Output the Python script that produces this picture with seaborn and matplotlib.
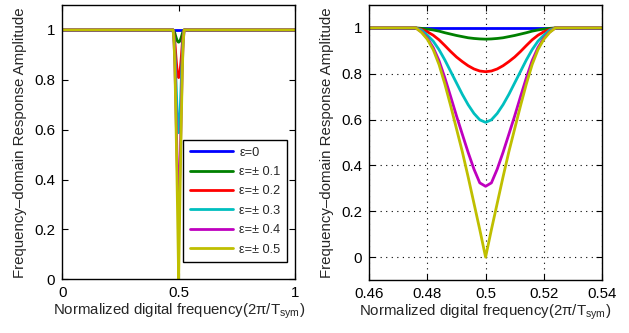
import numpy as np
import pandas as pd
import matplotlib
matplotlib.use("Agg")
import matplotlib.pyplot as plt
import seaborn as sns

# normalized digital frequency samples
freq = [0.0, 0.46, 0.476, 0.478, 0.48, 0.482, 0.484, 0.486, 0.488, 0.49, 0.492, 0.494, 0.496, 0.498,
        0.5, 0.502, 0.504, 0.506, 0.508, 0.51, 0.512, 0.514, 0.516, 0.518, 0.52, 0.522, 0.524, 0.54, 1.0]

# response amplitude, one list per epsilon
amp_e0 = [1.0] * 29
amp_e01 = [1.0, 1.0, 1.0, 0.998, 0.995, 0.991, 0.986, 0.979, 0.973, 0.967, 0.962, 0.957, 0.954, 0.952,
           0.951, 0.952, 0.954, 0.957, 0.962, 0.967, 0.973, 0.979, 0.986, 0.991, 0.995, 0.998, 1.0, 1.0, 1.0]
amp_e02 = [1.0, 1.0, 1.0, 0.993, 0.983, 0.968, 0.948, 0.923, 0.897, 0.873, 0.853, 0.835, 0.821, 0.812,
           0.809, 0.812, 0.821, 0.835, 0.853, 0.873, 0.897, 0.923, 0.948, 0.968, 0.983, 0.993, 1.0, 1.0, 1.0]
amp_e03 = [1.0, 1.0, 1.0, 0.99, 0.968, 0.942, 0.905, 0.86, 0.81, 0.76, 0.71, 0.665, 0.627, 0.599,
           0.588, 0.599, 0.627, 0.665, 0.71, 0.76, 0.81, 0.86, 0.905, 0.942, 0.968, 0.99, 1.0, 1.0, 1.0]
amp_e04 = [1.0, 1.0, 1.0, 0.982, 0.955, 0.914, 0.857, 0.782, 0.70, 0.616, 0.536, 0.457, 0.384, 0.324,
           0.309, 0.324, 0.384, 0.457, 0.536, 0.616, 0.70, 0.782, 0.857, 0.914, 0.955, 0.982, 1.0, 1.0, 1.0]
amp_e05 = [1.0, 1.0, 1.0, 0.98, 0.95, 0.905, 0.84, 0.755, 0.66, 0.56, 0.46, 0.35, 0.235, 0.12,
           0.0, 0.12, 0.235, 0.35, 0.46, 0.56, 0.66, 0.755, 0.84, 0.905, 0.95, 0.98, 1.0, 1.0, 1.0]

labels = ["ε=0", "ε=± 0.1", "ε=± 0.2", "ε=± 0.3", "ε=± 0.4", "ε=± 0.5"]
colors = ["#0000ff", "#008000", "#ff0000", "#00bfbf", "#bf00bf", "#bfbf00"]

series = [amp_e0, amp_e01, amp_e02, amp_e03, amp_e04, amp_e05]
df = pd.concat([pd.DataFrame({"freq": freq, "amp": s, "eps": lab}) for s, lab in zip(series, labels)],
               ignore_index=True)

sns.set_style("ticks")
plt.rcParams["font.family"] = ["Liberation Sans", "DejaVu Sans"]
plt.rcParams["mathtext.default"] = "regular"
plt.rcParams["axes.linewidth"] = 1.0
plt.rcParams["axes.edgecolor"] = "black"

fig = plt.figure(figsize=(6.29, 3.33), dpi=100)
ax1 = fig.add_axes([0.099, 0.161, 0.370, 0.824])
ax2 = fig.add_axes([0.587, 0.159, 0.370, 0.826])

xlabel = "Normalized digital frequency(2π/T$_{sym}$)"
ylabel = "Frequency–domain Response Amplitude"

for ax in (ax1, ax2):
    sns.lineplot(data=df, x="freq", y="amp", hue="eps", palette=colors, hue_order=labels,
                 linewidth=2, ax=ax, legend=(ax is ax1), sort=False)
    ax.set_xlabel(xlabel, fontsize=10.8, labelpad=1)
    ax.set_ylabel(ylabel, fontsize=10.8, labelpad=5)
    ax.tick_params(direction="in", top=True, right=True, length=4, labelsize=10.8, colors="black",
                   pad=5)
    for sp in ax.spines.values():
        sp.set_visible(True)
        sp.set_color("black")

ax1.set_xlim(0, 1)
ax1.set_ylim(0, 1.1)
ax1.set_xticks([0, 0.5, 1])
ax1.set_xticklabels(["0", "0.5", "1"])
ax1.set_yticks([0, 0.2, 0.4, 0.6, 0.8, 1])
ax1.set_yticklabels(["0", "0.2", "0.4", "0.6", "0.8", "1"])

ax2.set_xlim(0.46, 0.54)
ax2.set_ylim(-0.1, 1.1)
ax2.set_xticks([0.46, 0.48, 0.5, 0.52, 0.54])
ax2.set_xticklabels(["0.46", "0.48", "0.5", "0.52", "0.54"])
ax2.set_yticks([0, 0.2, 0.4, 0.6, 0.8, 1])
ax2.set_yticklabels(["0", "0.2", "0.4", "0.6", "0.8", "1"])
ax2.grid(True, color="black", linestyle=(0, (1, 4)), linewidth=0.8)

handles, labs = ax1.get_legend_handles_labels()
leg = ax1.legend(handles, labs, loc="lower right", bbox_to_anchor=(0.966, 0.063), borderaxespad=0,
                 fontsize=9.2, handlelength=3.4, handletextpad=0.5, labelspacing=0.58,
                 borderpad=0.5, fancybox=False, frameon=True, edgecolor="black", framealpha=1)
leg.get_frame().set_linewidth(1.0)
for line in leg.get_lines():
    line.set_linewidth(2)

fig.savefig("out.png", dpi=100)
